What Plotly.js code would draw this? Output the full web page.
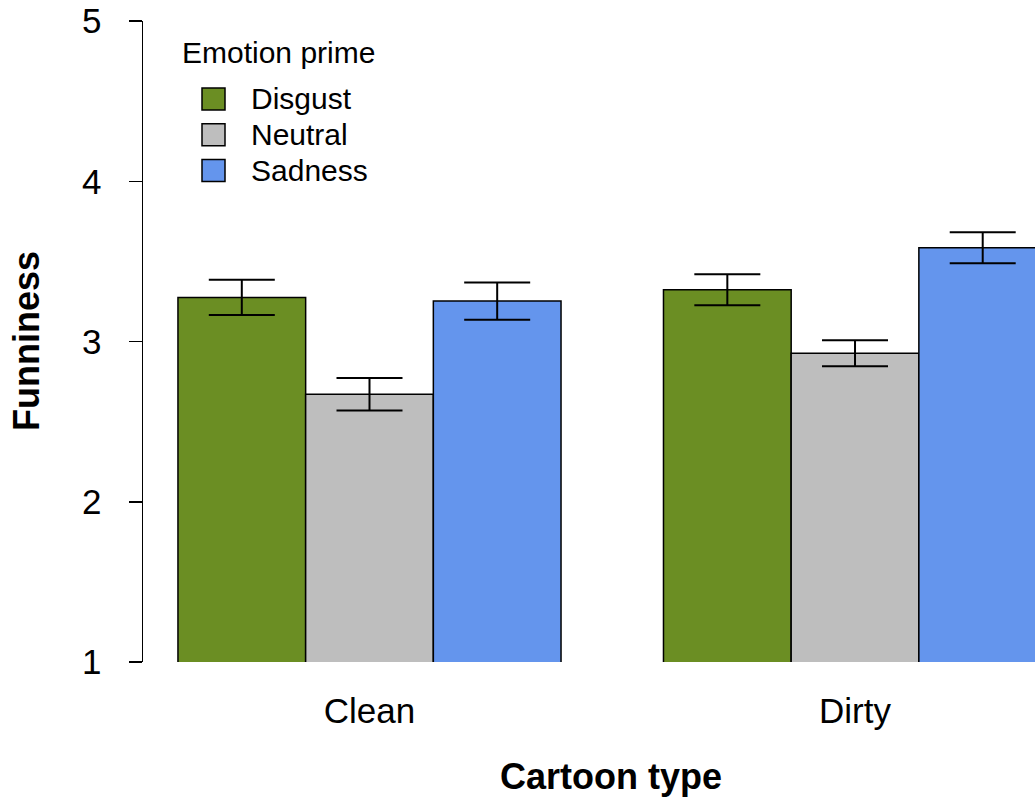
<!DOCTYPE html>
<html>
<head>
<meta charset="utf-8">
<script src="https://cdn.plot.ly/plotly-3.0.1.min.js"></script>
<style>
  html, body { margin: 0; padding: 0; background: #ffffff; }
  #chart { width: 1035px; height: 797px; }
</style>
</head>
<body>
<div id="chart"></div>
<script>
// ---- data ----
var categories = ["Clean", "Dirty"];
var seriesNames = ["Disgust", "Neutral", "Sadness"];
var seriesColors = ["#6B8E23", "#BEBEBE", "#6495ED"];
var disgustMeans = [3.275, 3.323];
var neutralMeans = [2.671, 2.927];
var sadnessMeans = [3.252, 3.585];
var disgustSE = [0.110, 0.097];
var neutralSE = [0.102, 0.081];
var sadnessSE = [0.116, 0.097];
var yTicks = [1, 2, 3, 4, 5];
var legendTitle = "Emotion prime";
var xTitle = "Cartoon type";
var yTitle = "Funniness";

var means = [disgustMeans, neutralMeans, sadnessMeans];
var ses = [disgustSE, neutralSE, sadnessSE];

var FONT = "Liberation Sans, Arial, Helvetica, sans-serif";

var traces = seriesNames.map(function (name, i) {
  return {
    type: "bar",
    name: name,
    x: categories,
    y: means[i],
    marker: { color: seriesColors[i], line: { color: "#000000", width: 1.5 } },
    error_y: { type: "data", array: ses[i], visible: true, color: "#000000", thickness: 2, width: 33 },
    showlegend: false,
    hoverinfo: "skip"
  };
});

// manual legend (shapes + text), laid out in paper coords
var L = 143, T = 21, W = 892, H = 641;
function px(x) { return (x - L) / W; }
function py(y) { return (T + H - y) / H; }

var shapes = [];
var annotations = [];
annotations.push({
  xref: "paper", yref: "paper", x: px(180), y: py(52), xanchor: "left", yanchor: "middle",
  text: legendTitle, showarrow: false, font: { family: FONT, size: 30, color: "#000" }
});
seriesNames.forEach(function (name, i) {
  var cy = 99 + i * 35.7;
  shapes.push({
    type: "rect", xref: "paper", yref: "paper",
    x0: px(202), x1: px(225), y0: py(cy - 11), y1: py(cy + 11),
    fillcolor: seriesColors[i], line: { color: "#000", width: 1.5 }
  });
  annotations.push({
    xref: "paper", yref: "paper", x: px(249), y: py(cy), xanchor: "left", yanchor: "middle",
    text: name, showarrow: false, font: { family: FONT, size: 30, color: "#000" }
  });
});
annotations.push({
  xref: "paper", yref: "paper", x: px(611), y: py(776), xanchor: "center", yanchor: "middle",
  text: "<b>" + xTitle + "</b>", showarrow: false, font: { family: FONT, size: 36, color: "#000" }
});
annotations.push({
  xref: "paper", yref: "paper", x: px(26), y: py(341), xanchor: "center", yanchor: "middle",
  textangle: -90, text: "<b>" + yTitle + "</b>", showarrow: false, font: { family: FONT, size: 36, color: "#000" }
});

var layout = {
  width: 1035, height: 797,
  margin: { l: 143, r: 0, t: 21, b: 135, pad: 0 },
  paper_bgcolor: "#ffffff", plot_bgcolor: "#ffffff",
  barmode: "group", bargap: 0.211, bargroupgap: 0,
  showlegend: false,
  font: { family: FONT, color: "#000" },
  xaxis: {
    type: "category",
    range: [-0.4665, 1.3707],
    showline: false, showgrid: false, zeroline: false,
    ticks: "", ticklabelstandoff: 25,
    tickfont: { family: FONT, size: 35, color: "#000" }
  },
  yaxis: {
    range: [1, 5],
    tickvals: yTicks, ticktext: yTicks.map(String),
    showline: true, linecolor: "#000", linewidth: 1.5,
    showgrid: false, zeroline: false,
    ticks: "outside", ticklen: 13, tickwidth: 1.5, tickcolor: "#000",
    ticklabelstandoff: 20,
    tickfont: { family: FONT, size: 35, color: "#000" }
  },
  shapes: shapes,
  annotations: annotations
};

Plotly.newPlot("chart", traces, layout, { staticPlot: true, displayModeBar: false });
</script>
</body>
</html>
